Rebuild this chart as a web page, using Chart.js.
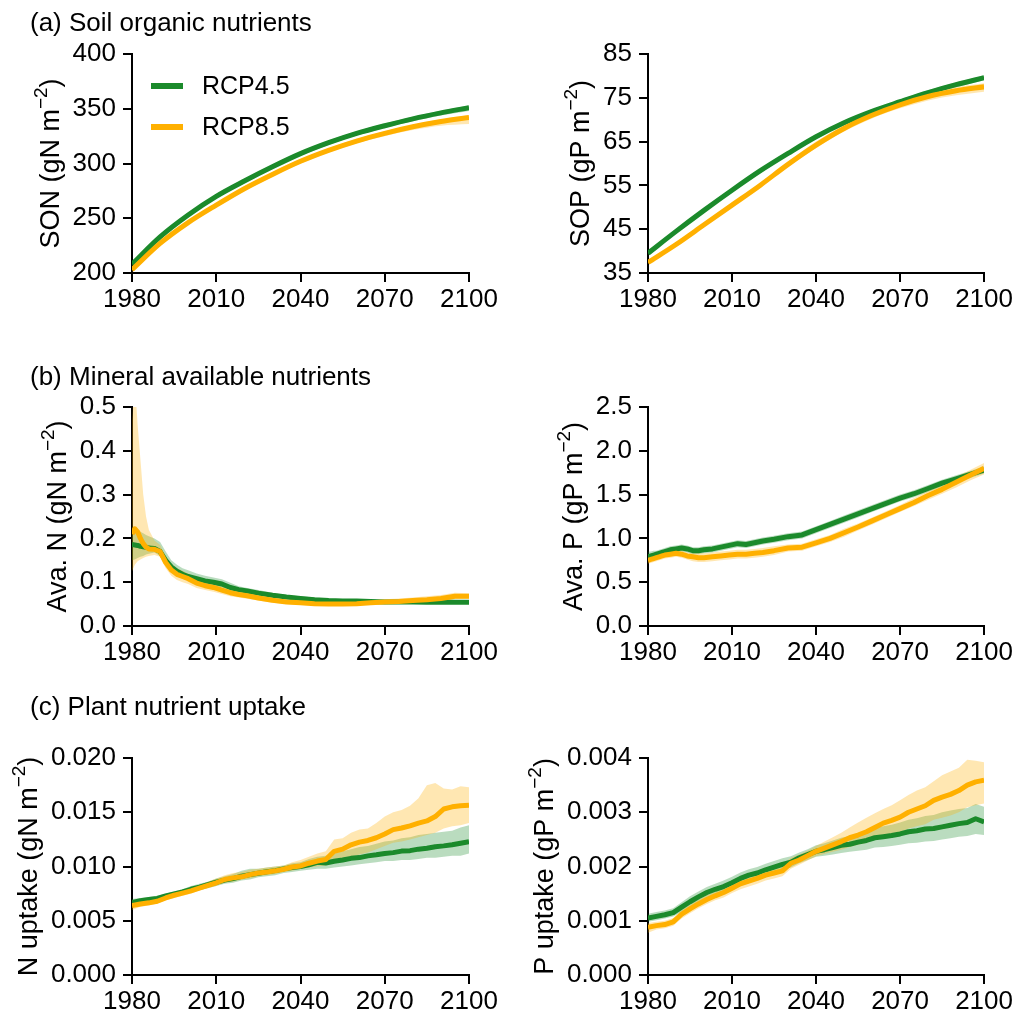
<!DOCTYPE html>
<html>
<head>
<meta charset="utf-8">
<script src="https://cdn.jsdelivr.net/npm/chart.js@4.4.1/dist/chart.umd.min.js"></script>
<style>
  html, body { margin: 0; padding: 0; background: #fff; }
  body { width: 1015px; height: 1017px; position: relative; overflow: hidden; }
  canvas { position: absolute; }
</style>
</head>
<body>
<canvas id="sonChart"></canvas>
<canvas id="sopChart"></canvas>
<canvas id="avaNChart"></canvas>
<canvas id="avaPChart"></canvas>
<canvas id="nUpChart"></canvas>
<canvas id="pUpChart"></canvas>
<script>
// ---------- scenarios ----------
const scenarioNames = ['RCP4.5', 'RCP8.5'];

// ---------- shared x ticks ----------
const xTickLabels = ['1980', '2010', '2040', '2070', '2100'];

// ---------- y tick labels per panel ----------
const sonTicks  = ['200', '250', '300', '350', '400'];
const sopTicks  = ['35', '45', '55', '65', '75', '85'];
const avaNTicks = ['0.0', '0.1', '0.2', '0.3', '0.4', '0.5'];
const avaPTicks = ['0.0', '0.5', '1.0', '1.5', '2.0', '2.5'];
const nUpTicks  = ['0.000', '0.005', '0.010', '0.015', '0.020'];
const pUpTicks  = ['0.000', '0.001', '0.002', '0.003', '0.004'];

// ---------- (a) soil organic nutrients, decadal ----------
const yearsA = [1980, 1990, 2000, 2010, 2020, 2030, 2040, 2050, 2060, 2070, 2080, 2090, 2100];

const son45    = [208, 233, 253, 270, 284, 297, 309, 319, 327.5, 334.5, 340.8, 346.2, 351];
const son45Lo  = [206, 231, 251, 268, 282, 295, 307, 317, 325.5, 332.5, 338.6, 343.8, 348];
const son45Hi  = [210, 235, 255, 272, 286, 299, 311, 321, 329.5, 336.5, 342.8, 348.2, 353];
const son85    = [203, 227, 246, 262, 277, 290, 302, 312, 320.5, 327.5, 333.5, 338.3, 342];
const son85Lo  = [201, 225, 244, 260, 275, 288, 300, 310, 318.5, 325, 330.5, 334.5, 336];
const son85Hi  = [205, 229, 248, 264, 279, 292, 304, 314, 322.5, 329.5, 335.5, 340.5, 344];

const sop45    = [39.5, 44.5, 49.3, 53.9, 58.3, 62.3, 66.1, 69.3, 71.9, 74.1, 76.2, 78.0, 79.6];
const sop45Lo  = [39.0, 44.0, 48.8, 53.4, 57.8, 61.8, 65.6, 68.8, 71.4, 73.6, 75.7, 77.4, 79.0];
const sop45Hi  = [40.0, 45.0, 49.8, 54.4, 58.8, 62.8, 66.6, 69.8, 72.4, 74.6, 76.7, 78.5, 80.1];
const sop85    = [37.4, 41.5, 46.0, 50.5, 55.0, 59.8, 64.2, 68.0, 71.0, 73.4, 75.3, 76.6, 77.5];
const sop85Lo  = [37.0, 41.1, 45.6, 50.1, 54.5, 59.2, 63.5, 67.3, 70.3, 72.6, 74.4, 75.6, 76.4];
const sop85Hi  = [37.8, 41.9, 46.4, 50.9, 55.5, 60.4, 65.0, 68.8, 71.8, 74.2, 76.0, 77.4, 78.3];

// ---------- (b) mineral available nutrients ----------
const yearsB = [1980, 1981, 1982, 1983, 1984, 1985, 1986, 1988, 1990, 1992, 1994, 1996, 1998, 2000,
                2003, 2006, 2009, 2012, 2015, 2018, 2021, 2025, 2030, 2035, 2040, 2045, 2050, 2055,
                2060, 2065, 2070, 2075, 2080, 2085, 2090, 2095, 2100];

const avaN45   = [0.186, 0.185, 0.184, 0.182, 0.181, 0.180, 0.178, 0.177, 0.170, 0.150, 0.135, 0.125, 0.118, 0.113,
                  0.108, 0.103, 0.100, 0.096, 0.088, 0.083, 0.080, 0.075, 0.070, 0.066, 0.063, 0.060, 0.058, 0.057,
                  0.057, 0.056, 0.055, 0.055, 0.055, 0.054, 0.055, 0.054, 0.054];
const avaN45Lo = [0.150, 0.152, 0.155, 0.158, 0.160, 0.163, 0.165, 0.168, 0.160, 0.140, 0.125, 0.115, 0.108, 0.104,
                  0.099, 0.095, 0.092, 0.088, 0.081, 0.077, 0.074, 0.070, 0.065, 0.062, 0.059, 0.056, 0.054, 0.053,
                  0.053, 0.052, 0.052, 0.052, 0.051, 0.051, 0.051, 0.051, 0.051];
const avaN45Hi = [0.225, 0.222, 0.220, 0.215, 0.212, 0.208, 0.205, 0.200, 0.192, 0.170, 0.150, 0.140, 0.132, 0.127,
                  0.120, 0.115, 0.111, 0.107, 0.099, 0.091, 0.087, 0.082, 0.076, 0.071, 0.068, 0.065, 0.062, 0.061,
                  0.061, 0.060, 0.059, 0.058, 0.058, 0.058, 0.058, 0.058, 0.057];
const avaN85   = [0.210, 0.222, 0.215, 0.200, 0.188, 0.180, 0.176, 0.175, 0.170, 0.145, 0.128, 0.118, 0.113, 0.108,
                  0.098, 0.092, 0.088, 0.082, 0.076, 0.072, 0.069, 0.064, 0.059, 0.055, 0.053, 0.051, 0.050, 0.050,
                  0.051, 0.053, 0.055, 0.056, 0.058, 0.060, 0.063, 0.068, 0.068];
const avaN85Lo = [0.125, 0.140, 0.148, 0.152, 0.155, 0.158, 0.160, 0.162, 0.158, 0.132, 0.115, 0.105, 0.100, 0.096,
                  0.087, 0.082, 0.078, 0.073, 0.068, 0.065, 0.062, 0.058, 0.053, 0.050, 0.048, 0.047, 0.046, 0.046,
                  0.047, 0.049, 0.050, 0.051, 0.053, 0.055, 0.057, 0.061, 0.062];
const avaN85Hi = [0.470, 0.560, 0.460, 0.380, 0.300, 0.250, 0.220, 0.195, 0.185, 0.160, 0.142, 0.132, 0.126, 0.120,
                  0.110, 0.103, 0.098, 0.092, 0.085, 0.080, 0.076, 0.071, 0.065, 0.061, 0.058, 0.056, 0.055, 0.055,
                  0.057, 0.059, 0.061, 0.063, 0.065, 0.068, 0.071, 0.076, 0.075];

const avaP45   = [0.79, 0.80, 0.81, 0.82, 0.83, 0.84, 0.85, 0.87, 0.88, 0.89, 0.88, 0.86, 0.86, 0.87,
                  0.88, 0.90, 0.92, 0.94, 0.93, 0.95, 0.97, 0.99, 1.02, 1.04, 1.10, 1.16, 1.22, 1.28,
                  1.34, 1.40, 1.46, 1.51, 1.57, 1.63, 1.68, 1.73, 1.78];
const avaP45Lo = [0.74, 0.76, 0.77, 0.78, 0.79, 0.80, 0.81, 0.83, 0.84, 0.85, 0.84, 0.82, 0.82, 0.83,
                  0.84, 0.86, 0.88, 0.90, 0.89, 0.91, 0.93, 0.95, 0.98, 1.00, 1.06, 1.12, 1.18, 1.24,
                  1.30, 1.36, 1.42, 1.47, 1.53, 1.59, 1.64, 1.69, 1.74];
const avaP45Hi = [0.85, 0.85, 0.86, 0.86, 0.87, 0.88, 0.89, 0.91, 0.92, 0.93, 0.92, 0.90, 0.90, 0.91,
                  0.92, 0.94, 0.96, 0.98, 0.97, 0.99, 1.01, 1.03, 1.06, 1.08, 1.14, 1.20, 1.26, 1.32,
                  1.38, 1.44, 1.50, 1.55, 1.61, 1.67, 1.72, 1.77, 1.82];
const avaP85   = [0.75, 0.76, 0.77, 0.78, 0.79, 0.80, 0.81, 0.82, 0.83, 0.82, 0.80, 0.79, 0.78, 0.78,
                  0.79, 0.80, 0.81, 0.82, 0.82, 0.83, 0.84, 0.86, 0.89, 0.90, 0.95, 1.00, 1.065, 1.13,
                  1.20, 1.27, 1.34, 1.41, 1.49, 1.56, 1.64, 1.72, 1.80];
const avaP85Lo = [0.71, 0.72, 0.73, 0.74, 0.75, 0.76, 0.77, 0.78, 0.79, 0.78, 0.76, 0.74, 0.73, 0.73,
                  0.74, 0.75, 0.76, 0.77, 0.77, 0.78, 0.79, 0.81, 0.85, 0.86, 0.91, 0.96, 1.02, 1.09,
                  1.16, 1.23, 1.30, 1.37, 1.44, 1.51, 1.58, 1.66, 1.73];
const avaP85Hi = [0.79, 0.80, 0.81, 0.82, 0.83, 0.84, 0.85, 0.86, 0.87, 0.86, 0.84, 0.83, 0.83, 0.83,
                  0.84, 0.85, 0.86, 0.87, 0.87, 0.88, 0.89, 0.91, 0.93, 0.94, 0.99, 1.04, 1.11, 1.17,
                  1.24, 1.31, 1.38, 1.46, 1.54, 1.62, 1.70, 1.78, 1.86];

// ---------- (c) plant nutrient uptake, every 3 years ----------
const yearsC = [1980, 1983, 1986, 1989, 1992, 1995, 1998, 2001, 2004, 2007, 2010, 2013, 2016, 2019,
                2022, 2025, 2028, 2031, 2034, 2037, 2040, 2043, 2046, 2049, 2052, 2055, 2058, 2061,
                2064, 2067, 2070, 2073, 2076, 2079, 2082, 2085, 2088, 2091, 2094, 2097, 2100];

const nUp45   = [0.00668, 0.00685, 0.00695, 0.00705, 0.00728, 0.00748, 0.00765, 0.00790, 0.00810, 0.00832,
                 0.00855, 0.00875, 0.00888, 0.00910, 0.00925, 0.00938, 0.00952, 0.00962, 0.00978, 0.00990,
                 0.01000, 0.01015, 0.01038, 0.01032, 0.01048, 0.01060, 0.01075, 0.01082, 0.01098, 0.01108,
                 0.01120, 0.01128, 0.01142, 0.01146, 0.01160, 0.01168, 0.01182, 0.01190, 0.01200, 0.01214, 0.01228];
const nUp45Lo = [0.0064, 0.0066, 0.0067, 0.0068, 0.0070, 0.0072, 0.0074, 0.0076, 0.0078, 0.0080,
                 0.0082, 0.0084, 0.0085, 0.0087, 0.0088, 0.0090, 0.0091, 0.0092, 0.0094, 0.0095,
                 0.0096, 0.0097, 0.0098, 0.0098, 0.0099, 0.0100, 0.0101, 0.0102, 0.0103, 0.0104,
                 0.0105, 0.0105, 0.0106, 0.0106, 0.0107, 0.0108, 0.0108, 0.0109, 0.0110, 0.0110, 0.0112];
const nUp45Hi = [0.0070, 0.0071, 0.0072, 0.0073, 0.0075, 0.0077, 0.0079, 0.0082, 0.0084, 0.0086,
                 0.0089, 0.0091, 0.0093, 0.0096, 0.0098, 0.0098, 0.0099, 0.0100, 0.0101, 0.0103,
                 0.0104, 0.0107, 0.0109, 0.0110, 0.0112, 0.0114, 0.0116, 0.0118, 0.0119, 0.0121,
                 0.0123, 0.0124, 0.0126, 0.0127, 0.0129, 0.0130, 0.0131, 0.0132, 0.0133, 0.0136, 0.0138];
const nUp85   = [0.00640, 0.00655, 0.00665, 0.00680, 0.00710, 0.00735, 0.00755, 0.00775, 0.00800, 0.00825,
                 0.00850, 0.00880, 0.00895, 0.00905, 0.00925, 0.00940, 0.00950, 0.00960, 0.00975, 0.00995,
                 0.01005, 0.01030, 0.01050, 0.01065, 0.01140, 0.01160, 0.01200, 0.01225, 0.01240, 0.01265,
                 0.01300, 0.01340, 0.01355, 0.01375, 0.01400, 0.01420, 0.01460, 0.01530, 0.01550, 0.01560, 0.01565];
const nUp85Lo = [0.0060, 0.0063, 0.0064, 0.0066, 0.0069, 0.0071, 0.0073, 0.0075, 0.0078, 0.0080,
                 0.0082, 0.0085, 0.0086, 0.0088, 0.0089, 0.0091, 0.0092, 0.0093, 0.0095, 0.0096,
                 0.0098, 0.0099, 0.0100, 0.0101, 0.0104, 0.0106, 0.0109, 0.0111, 0.0113, 0.0116,
                 0.0119, 0.0122, 0.0123, 0.0125, 0.0127, 0.0129, 0.0131, 0.0135, 0.0137, 0.0138, 0.0140];
const nUp85Hi = [0.0067, 0.0068, 0.0069, 0.0071, 0.0074, 0.0076, 0.0078, 0.0081, 0.0083, 0.0086,
                 0.0089, 0.0092, 0.0094, 0.0095, 0.0097, 0.0098, 0.0099, 0.0100, 0.0101, 0.0104,
                 0.0106, 0.0109, 0.0112, 0.0114, 0.0125, 0.0126, 0.0131, 0.0134, 0.0135, 0.0140,
                 0.0146, 0.0150, 0.0152, 0.0156, 0.0163, 0.0175, 0.0177, 0.0172, 0.0171, 0.0174, 0.0173];

const pUp45   = [0.00105, 0.00108, 0.00111, 0.00115, 0.00125, 0.00135, 0.00144, 0.00152, 0.00158, 0.00163,
                 0.00170, 0.00178, 0.00184, 0.00188, 0.00194, 0.00199, 0.00204, 0.00208, 0.00216, 0.00222,
                 0.00228, 0.00231, 0.00235, 0.00239, 0.00241, 0.00245, 0.00248, 0.00253, 0.00255, 0.00257,
                 0.00260, 0.00264, 0.00266, 0.00269, 0.00270, 0.00273, 0.00276, 0.00279, 0.00281, 0.00288, 0.00282];
const pUp45Lo = [0.00098, 0.00101, 0.00104, 0.00108, 0.00116, 0.00126, 0.00135, 0.00143, 0.00148, 0.00153,
                 0.00160, 0.00168, 0.00174, 0.00178, 0.00184, 0.00189, 0.00193, 0.00198, 0.00206, 0.00212,
                 0.00218, 0.00220, 0.00222, 0.00225, 0.00227, 0.00229, 0.00231, 0.00235, 0.00236, 0.00238,
                 0.00240, 0.00243, 0.00244, 0.00246, 0.00247, 0.00250, 0.00252, 0.00255, 0.00256, 0.00260, 0.00258];
const pUp45Hi = [0.00113, 0.00116, 0.00119, 0.00123, 0.00134, 0.00145, 0.00154, 0.00162, 0.00168, 0.00174,
                 0.00181, 0.00189, 0.00195, 0.00199, 0.00205, 0.00210, 0.00215, 0.00219, 0.00226, 0.00232,
                 0.00239, 0.00243, 0.00248, 0.00253, 0.00256, 0.00261, 0.00265, 0.00271, 0.00274, 0.00277,
                 0.00281, 0.00286, 0.00289, 0.00293, 0.00295, 0.00300, 0.00303, 0.00306, 0.00308, 0.00315, 0.00310];
const pUp85   = [0.00088, 0.00091, 0.00093, 0.00098, 0.00112, 0.00122, 0.00131, 0.00139, 0.00146, 0.00152,
                 0.00160, 0.00168, 0.00173, 0.00178, 0.00184, 0.00188, 0.00192, 0.00206, 0.00212, 0.00220,
                 0.00228, 0.00234, 0.00240, 0.00246, 0.00253, 0.00258, 0.00264, 0.00272, 0.00280, 0.00285,
                 0.00291, 0.00300, 0.00306, 0.00312, 0.00322, 0.00328, 0.00333, 0.00340, 0.00350, 0.00356, 0.00359];
const pUp85Lo = [0.00078, 0.00084, 0.00086, 0.00091, 0.00104, 0.00114, 0.00123, 0.00131, 0.00138, 0.00143,
                 0.00151, 0.00158, 0.00163, 0.00168, 0.00174, 0.00178, 0.00182, 0.00196, 0.00203, 0.00211,
                 0.00219, 0.00223, 0.00227, 0.00231, 0.00236, 0.00240, 0.00244, 0.00250, 0.00256, 0.00259,
                 0.00263, 0.00270, 0.00274, 0.00278, 0.00286, 0.00290, 0.00294, 0.00300, 0.00309, 0.00313, 0.00316];
const pUp85Hi = [0.00096, 0.00098, 0.00100, 0.00105, 0.00120, 0.00130, 0.00139, 0.00147, 0.00154, 0.00161,
                 0.00169, 0.00178, 0.00183, 0.00188, 0.00194, 0.00198, 0.00203, 0.00216, 0.00222, 0.00229,
                 0.00238, 0.00246, 0.00254, 0.00262, 0.00272, 0.00281, 0.00290, 0.00298, 0.00306, 0.00313,
                 0.00322, 0.00332, 0.00340, 0.00346, 0.00357, 0.00368, 0.00375, 0.00382, 0.00397, 0.00395, 0.00392];

// ---------- styling ----------
const FONT = "'Liberation Sans', Arial, Helvetica, sans-serif";
const GREEN = '#1b8a2b';
const ORANGE = '#ffb000';
const GREEN_BAND = 'rgba(27,138,43,0.30)';
const ORANGE_BAND = 'rgba(255,176,0,0.30)';
const TICK_LEN = 9;
const TICK_PAD = 7;
const TICK_FONT = 26;

Chart.defaults.font.family = FONT;
Chart.defaults.color = '#000';

const pts = (xs, ys) => xs.map((x, i) => ({ x: x, y: ys[i] }));

// Heading, rotated y-axis title (with superscript) and in-axes legend
const decorPlugin = {
  id: 'decor',
  afterDraw(chart, args, opts) {
    const ctx = chart.ctx;
    const area = chart.chartArea;
    ctx.save();
    ctx.fillStyle = '#000';
    ctx.textAlign = 'left';
    ctx.textBaseline = 'alphabetic';

    if (opts.heading) {
      ctx.font = '26px ' + FONT;
      ctx.fillText(opts.heading, opts.headingX, opts.headingY);
    }

    // y-axis title, placed left of the widest tick label
    const ys = chart.scales.y;
    ctx.font = TICK_FONT + 'px ' + FONT;
    let maxW = 0;
    ys.ticks.forEach(t => { maxW = Math.max(maxW, ctx.measureText(String(t.label)).width); });
    const labelLeft = area.left - TICK_LEN - TICK_PAD - maxW;
    const baseX = labelLeft - 14;
    const [pre, sup, post] = opts.yTitle;
    const big = '27px ' + FONT, small = '19px ' + FONT;
    ctx.font = big;
    const w1 = ctx.measureText(pre).width, w3 = ctx.measureText(post).width;
    ctx.font = small;
    const w2 = ctx.measureText(sup).width;
    ctx.save();
    ctx.translate(baseX, (area.top + area.bottom) / 2);
    ctx.rotate(-Math.PI / 2);
    let x = -(w1 + w2 + w3) / 2;
    ctx.font = big;   ctx.fillText(pre, x, 0);  x += w1;
    ctx.font = small; ctx.fillText(sup, x, -12); x += w2;
    ctx.font = big;   ctx.fillText(post, x, 0);
    ctx.restore();

    if (opts.legend) {
      const items = [
        { label: scenarioNames[0], color: GREEN },
        { label: scenarioNames[1], color: ORANGE }
      ];
      ctx.font = '25px ' + FONT;
      ctx.textBaseline = 'middle';
      items.forEach((it, i) => {
        const cy = area.top + 32 + i * 41;
        ctx.strokeStyle = it.color;
        ctx.lineWidth = 6;
        ctx.beginPath();
        ctx.moveTo(area.left + 19, cy);
        ctx.lineTo(area.left + 51, cy);
        ctx.stroke();
        ctx.fillStyle = '#000';
        ctx.fillText(it.label, area.left + 70, cy + 1);
      });
    }
    ctx.restore();
  }
};

function buildDatasets(xs, s45, lo45, hi45, s85, lo85, hi85, smooth) {
  const common = {
    pointRadius: 0,
    pointHoverRadius: 0,
    cubicInterpolationMode: smooth ? 'monotone' : 'default',
    tension: 0
  };
  return [
    Object.assign({ label: 'lo45', data: pts(xs, lo45), borderWidth: 0, fill: false, order: 6 }, common),
    Object.assign({ label: 'hi45', data: pts(xs, hi45), borderWidth: 0, fill: '-1', backgroundColor: GREEN_BAND, order: 5 }, common),
    Object.assign({ label: 'lo85', data: pts(xs, lo85), borderWidth: 0, fill: false, order: 4 }, common),
    Object.assign({ label: 'hi85', data: pts(xs, hi85), borderWidth: 0, fill: '-1', backgroundColor: ORANGE_BAND, order: 3 }, common),
    Object.assign({ label: scenarioNames[0], data: pts(xs, s45), borderColor: GREEN, borderWidth: 5,
                    borderJoinStyle: 'round', fill: false, order: 1 }, common),
    Object.assign({ label: scenarioNames[1], data: pts(xs, s85), borderColor: ORANGE, borderWidth: 5,
                    borderJoinStyle: 'round', fill: false, order: 0 }, common)
  ];
}

function axisStyle() {
  return {
    border: { display: true, color: '#000', width: 2 },
    grid: { display: true, drawOnChartArea: false, drawTicks: true, tickLength: TICK_LEN, color: '#000', lineWidth: 2 }
  };
}

function makePanel(id, p) {
  const canvas = document.getElementById(id);
  canvas.width = p.width;
  canvas.height = p.height;
  canvas.style.left = p.left + 'px';
  canvas.style.top = p.top + 'px';
  canvas.style.width = p.width + 'px';
  canvas.style.height = p.height + 'px';

  const yLabels = p.yTicks;
  return new Chart(canvas, {
    type: 'line',
    data: { datasets: p.datasets },
    options: {
      responsive: false,
      animation: false,
      events: [],
      layout: { padding: { top: p.padTop, right: p.padRight, left: 0, bottom: 0 } },
      plugins: {
        legend: { display: false },
        tooltip: { enabled: false },
        decor: p.decor
      },
      scales: {
        x: Object.assign({
          type: 'linear',
          min: Number(xTickLabels[0]),
          max: Number(xTickLabels[xTickLabels.length - 1]),
          afterBuildTicks: s => { s.ticks = xTickLabels.map(v => ({ value: Number(v) })); },
          afterFit: s => { s.height = 42; },
          ticks: {
            font: { size: TICK_FONT, family: FONT }, color: '#000', padding: 2, maxRotation: 0,
            callback: (v, i) => xTickLabels[i]
          }
        }, axisStyle()),
        y: Object.assign({
          type: 'linear',
          min: Number(yLabels[0]),
          max: Number(yLabels[yLabels.length - 1]),
          afterBuildTicks: s => { s.ticks = yLabels.map(v => ({ value: Number(v) })); },
          afterFit: s => { s.width = p.axisWidth; },
          ticks: {
            font: { size: TICK_FONT, family: FONT }, color: '#000', padding: TICK_PAD,
            callback: (v, i) => yLabels[i]
          }
        }, axisStyle())
      }
    },
    plugins: [decorPlugin]
  });
}

const LEFT = { left: 0, width: 500, axisWidth: 132, padRight: 31 };
const RIGHT = { left: 500, width: 515, axisWidth: 148, padRight: 30 };
const ROW_A = { top: 0, height: 315, padTop: 54 };
const ROW_B = { top: 353, height: 315, padTop: 54 };
const ROW_C = { top: 680, height: 337, padTop: 78 };

makePanel('sonChart', Object.assign({}, LEFT, ROW_A, {
  yTicks: sonTicks,
  datasets: buildDatasets(yearsA, son45, son45Lo, son45Hi, son85, son85Lo, son85Hi, true),
  decor: { heading: '(a) Soil organic nutrients', headingX: 30, headingY: 31,
           yTitle: ['SON (gN m', '\u22122', ')'], legend: true }
}));
makePanel('sopChart', Object.assign({}, RIGHT, ROW_A, {
  yTicks: sopTicks,
  datasets: buildDatasets(yearsA, sop45, sop45Lo, sop45Hi, sop85, sop85Lo, sop85Hi, true),
  decor: { yTitle: ['SOP (gP m', '\u22122', ')'] }
}));
makePanel('avaNChart', Object.assign({}, LEFT, ROW_B, {
  yTicks: avaNTicks,
  datasets: buildDatasets(yearsB, avaN45, avaN45Lo, avaN45Hi, avaN85, avaN85Lo, avaN85Hi, false),
  decor: { heading: '(b) Mineral available nutrients', headingX: 30, headingY: 32,
           yTitle: ['Ava. N (gN m', '\u22122', ')'] }
}));
makePanel('avaPChart', Object.assign({}, RIGHT, ROW_B, {
  yTicks: avaPTicks,
  datasets: buildDatasets(yearsB, avaP45, avaP45Lo, avaP45Hi, avaP85, avaP85Lo, avaP85Hi, false),
  decor: { yTitle: ['Ava. P (gP m', '\u22122', ')'] }
}));
makePanel('nUpChart', Object.assign({}, LEFT, ROW_C, {
  yTicks: nUpTicks,
  datasets: buildDatasets(yearsC, nUp45, nUp45Lo, nUp45Hi, nUp85, nUp85Lo, nUp85Hi, false),
  decor: { heading: '(c) Plant nutrient uptake', headingX: 30, headingY: 35,
           yTitle: ['N uptake (gN m', '\u22122', ')'] }
}));
makePanel('pUpChart', Object.assign({}, RIGHT, ROW_C, {
  yTicks: pUpTicks,
  datasets: buildDatasets(yearsC, pUp45, pUp45Lo, pUp45Hi, pUp85, pUp85Lo, pUp85Hi, false),
  decor: { yTitle: ['P uptake (gP m', '\u22122', ')'] }
}));
</script>
</body>
</html>
